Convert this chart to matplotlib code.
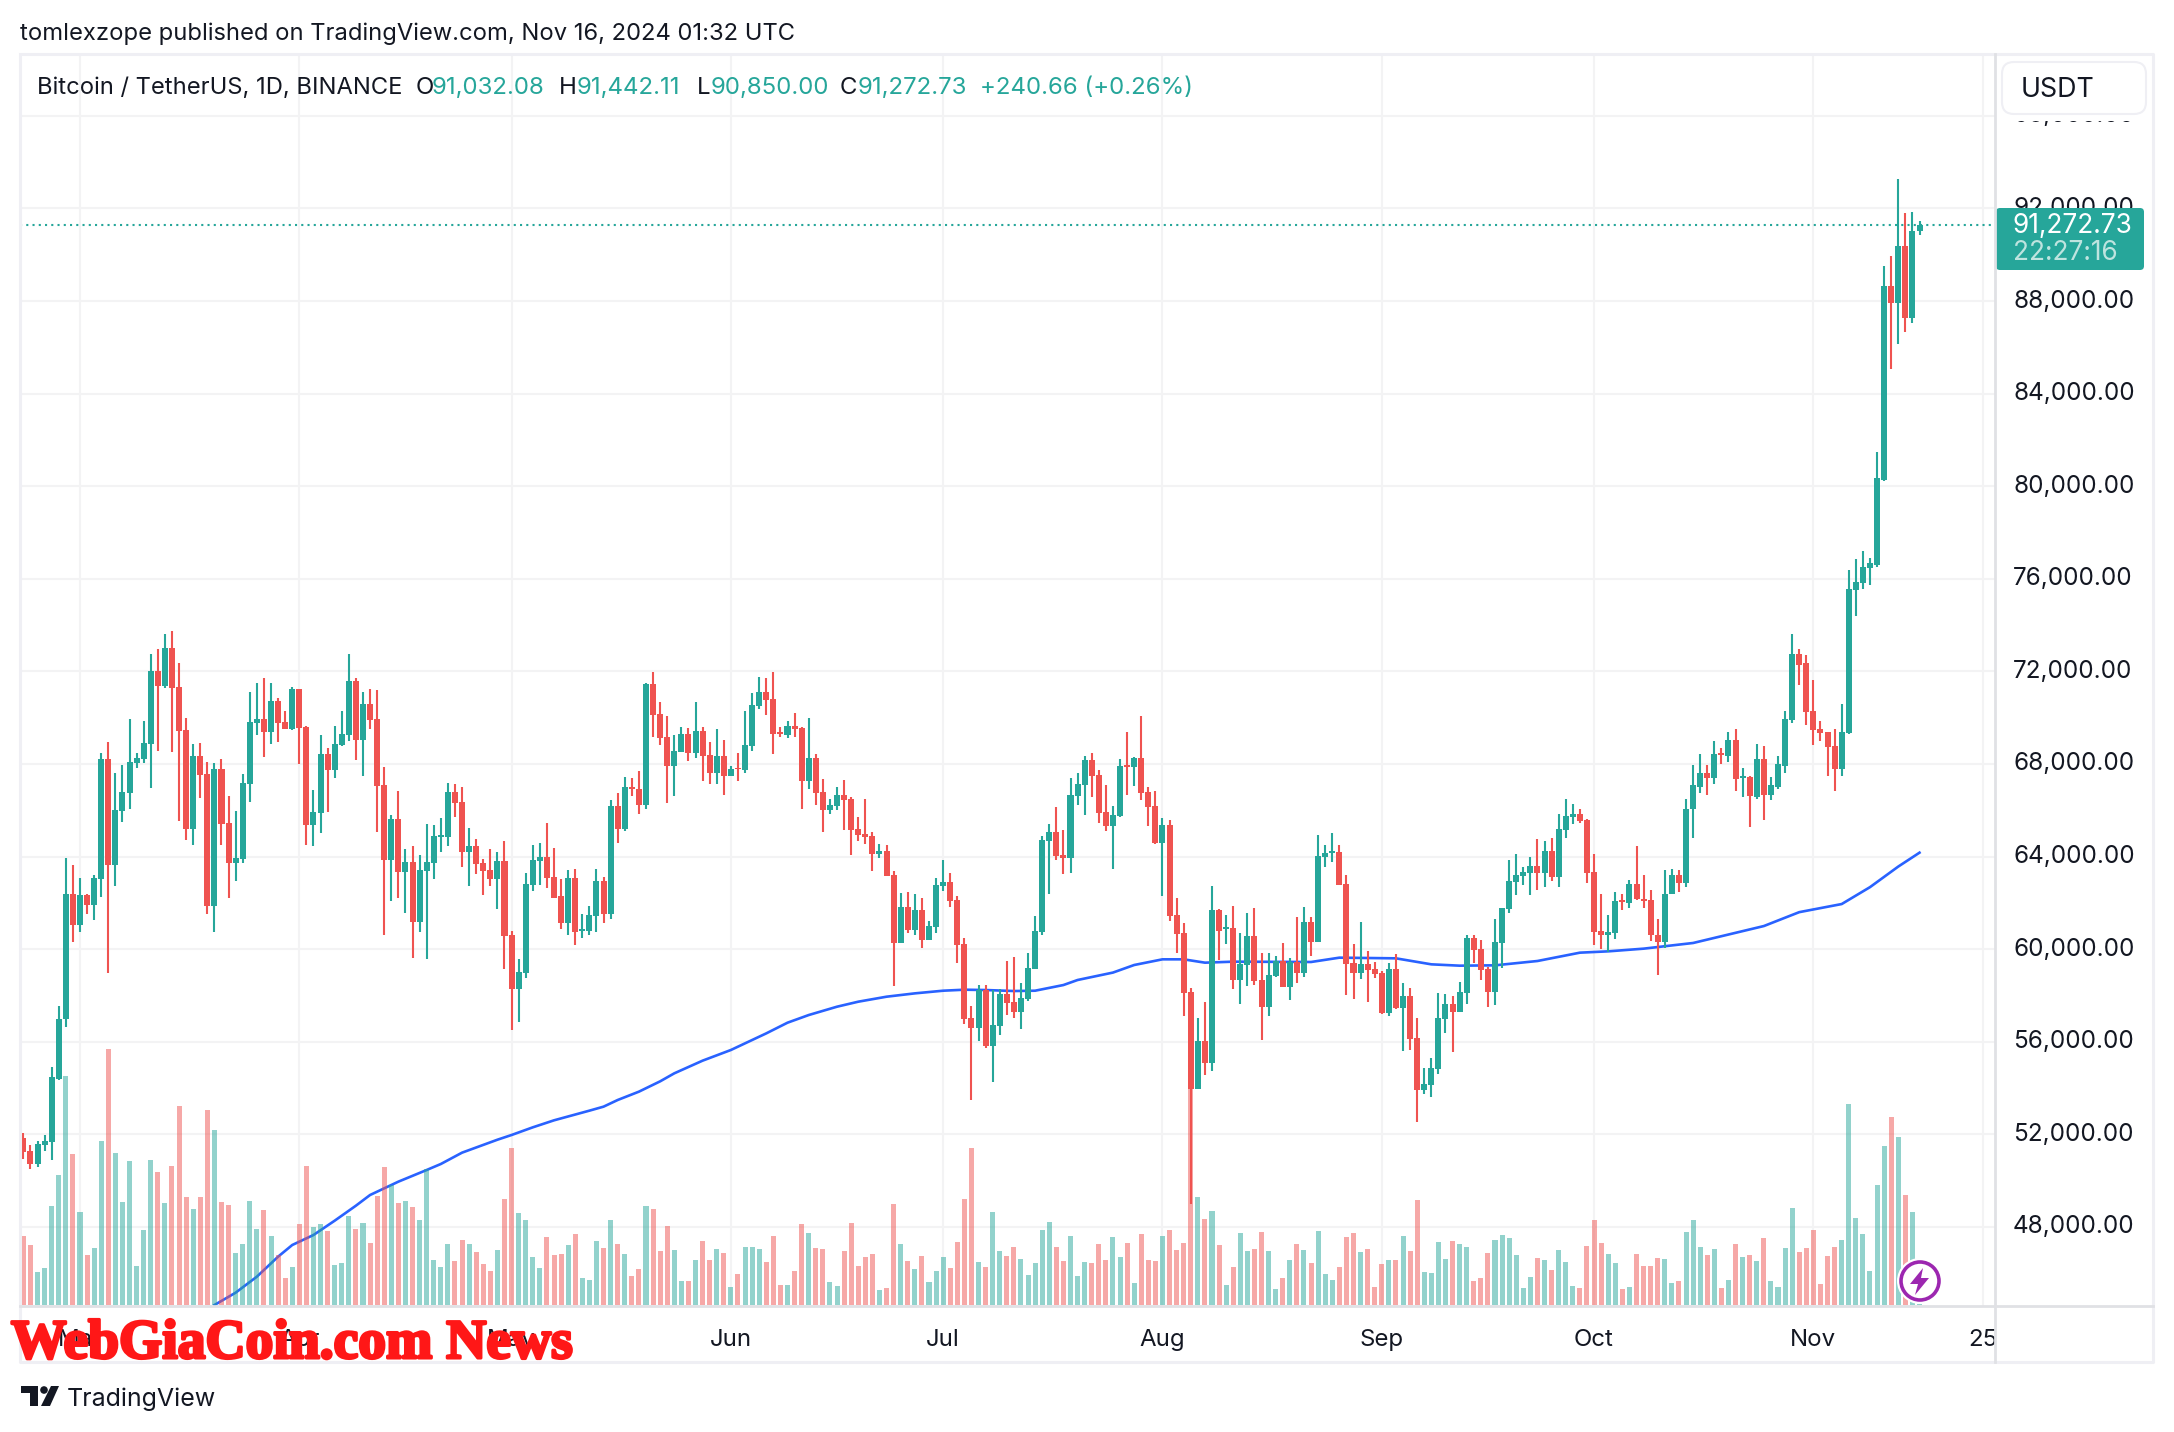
import matplotlib
matplotlib.use("Agg")
import matplotlib.pyplot as plt
import matplotlib.patheffects as pe
from matplotlib.patches import Circle, FancyBboxPatch, Polygon, Rectangle
from matplotlib.ticker import FuncFormatter

# daily BTCUSDT bars, first one is 2024-02-22
opens = [
    51844, 51283, 50721, 51542, 51672, 54403, 56967, 62381, 61056, 62352,
    61920, 63043, 68227, 63648, 65981, 66759, 68055, 68227, 68875, 72029,
    71381, 73023, 71338, 69480, 65203, 68357, 67579, 61877, 67795, 65462,
    63735, 63907, 67147, 69782, 69955, 69394, 70733, 69826, 69523, 71251,
    69610, 65376, 65894, 68443, 67752, 68832, 69264, 71597, 69048, 70603,
    69955, 67104, 63864, 65635, 63346, 63778, 61186, 63389, 63735, 64858,
    64858, 66802, 66370, 64210, 64469, 63735, 63432, 63043, 63821, 60624,
    58291, 58982, 62784, 63821, 63994, 63130, 62297, 61130, 63074, 60785,
    60785, 61433, 62945, 61519, 66185, 65191, 67006, 66919, 66228, 71455,
    70159, 69166, 67913, 68518, 69295, 68474, 69425, 68388, 67610, 68345,
    67481, 67826, 67740, 68777, 70505, 71110, 70807, 69382, 69252, 69641,
    69554, 67265, 68258, 66790, 66012, 66185, 66660, 66487, 65191, 64975,
    64889, 64111, 64241, 63204, 60266, 61821, 60828, 61692, 60396, 60958,
    62729, 62902, 62124, 60223, 57026, 56594, 58236, 55817, 56681, 58063,
    57718, 57286, 57847, 59143, 60742, 64673, 65062, 64068, 63938, 66617,
    67092, 68172, 67524, 65927, 65322, 65754, 67957, 67871, 68259, 66791,
    66186, 64587, 65365, 61477, 60699, 58150, 53960, 56034, 55084, 61693,
    60872, 60915, 58669, 59317, 60570, 58669, 57503, 58842, 59490, 58367,
    59447, 58971, 61174, 60310, 63983, 64156, 64199, 62816, 59403, 58971,
    59360, 59144, 58971, 57243, 59144, 57459, 57978, 56163, 53917, 54133,
    54824, 56984, 57632, 57287, 58107, 60483, 60008, 59144, 58151, 60267,
    61736, 62902, 63162, 63292, 63594, 63292, 64242, 63119, 65149, 65711,
    65840, 65581, 63335, 60786, 60613, 60700, 62125, 62005, 62816, 62168,
    62130, 60600, 60290, 62400, 63200, 62850, 66038, 67022, 67601, 67389,
    68470, 68354, 69029, 67389, 67427, 66559, 68200, 66655, 67022, 67929,
    69898, 72735, 72349, 70284, 69493, 69377, 68760, 67775, 69320, 75514,
    75804, 76460, 76614, 80281, 88657, 87924, 90375, 87268, 91032,
]
highs = [
    52060, 51542, 51715, 51974, 54912, 57557, 63951, 63648, 63087, 62396,
    63216, 68487, 68962, 67623, 67968, 69955, 68487, 69869, 72763, 72979,
    73627, 73757, 72375, 70000, 68875, 68919, 68098, 68055, 68227, 66629,
    65981, 67579, 71122, 71511, 71727, 71511, 70863, 70301, 71338, 71251,
    69653, 66888, 69264, 68703, 69653, 70301, 72763, 71727, 71122, 71251,
    71208, 67882, 65808, 66845, 64339, 64469, 64080, 65419, 65376, 65678,
    67191, 67147, 67018, 65246, 64771, 63907, 64339, 64210, 64685, 60797,
    59587, 63302, 64512, 64599, 65463, 64383, 63031, 63420, 63463, 61519,
    61865, 63463, 63118, 66444, 66746, 67438, 67394, 67697, 71498, 71974,
    70678, 70073, 69252, 69598, 69554, 70678, 69598, 68950, 69511, 69036,
    67913, 68474, 70289, 71066, 71758, 71714, 71974, 69598, 69857, 70203,
    69598, 69986, 68431, 67351, 66487, 67006, 67308, 66574, 65710, 66487,
    65062, 64543, 64500, 63377, 62426, 62470, 62383, 62210, 61217, 63074,
    63852, 63290, 62297, 60482, 57545, 58452, 58452, 58236, 58279, 59489,
    59662, 58538, 59834, 61433, 64889, 65407, 66142, 65148, 67394, 67610,
    68345, 68474, 67740, 67093, 66186, 68216, 69383, 68303, 70074, 67007,
    66834, 65667, 65581, 62211, 61131, 58323, 57013, 57718, 62730, 61736,
    61477, 61866, 60699, 61563, 61779, 59835, 59835, 59706, 60267, 59620,
    61391, 61822, 61391, 64933, 64501, 65019, 64501, 63205, 60224, 61175,
    59922, 59447, 59058, 59403, 59793, 58539, 58323, 57027, 54867, 55299,
    58107, 58064, 57978, 58583, 60613, 60613, 60397, 59231, 61304, 61779,
    63853, 64112, 63551, 63983, 64760, 64674, 64803, 65840, 66488, 66272,
    66056, 65624, 64112, 62384, 61477, 62470, 62384, 62989, 64458, 63200,
    62550, 61300, 63400, 63450, 63400, 66480, 67950, 68412, 67950, 68991,
    68701, 69377, 69493, 67813, 67466, 68856, 68759, 67427, 68335, 70284,
    73604, 72967, 72696, 71616, 69879, 69377, 69493, 70574, 76383, 76846,
    77193, 76884, 81478, 89526, 89950, 93251, 91803, 91861, 91442,
]
lows = [
    50937, 50505, 50592, 51283, 50894, 54350, 56650, 60322, 60754, 61531,
    61272, 62266, 58983, 62741, 65506, 66067, 67839, 68055, 66975, 68573,
    71295, 68530, 65549, 64728, 64512, 66543, 61531, 60754, 64512, 62223,
    62957, 63735, 66370, 69264, 68314, 68875, 68962, 69523, 69480, 68011,
    64512, 64469, 65030, 65938, 67406, 68789, 69005, 68184, 67493, 69523,
    65074, 60624, 62093, 62223, 61574, 59631, 60754, 59587, 63043, 64210,
    64469, 65722, 63562, 62741, 63259, 62352, 62741, 61747, 59155, 56520,
    56866, 58766, 62525, 62784, 62655, 62223, 60871, 60612, 60180, 60482,
    60612, 60742, 61130, 61303, 64586, 65105, 66617, 65839, 66055, 69166,
    68820, 66314, 66617, 68518, 68129, 68258, 67265, 67135, 67135, 66660,
    67481, 67265, 67610, 68561, 70375, 70116, 68431, 69166, 69122, 69166,
    66055, 66919, 66228, 65062, 65839, 66012, 65148, 64068, 64673, 64543,
    63377, 63938, 63161, 58409, 60266, 60698, 60612, 60050, 60396, 60698,
    62513, 61821, 59402, 56767, 53484, 56033, 55730, 54262, 56292, 57156,
    57026, 56551, 57761, 59143, 60612, 62383, 63852, 63247, 63290, 66228,
    65796, 66574, 65450, 65106, 63464, 65711, 66661, 67050, 66445, 65322,
    64544, 62298, 61218, 59835, 57114, 49000, 53960, 54565, 54738, 59533,
    60224, 58280, 57632, 58410, 58453, 56077, 57114, 58799, 58367, 57805,
    58540, 58799, 59706, 60310, 63551, 63767, 62773, 58021, 57848, 58712,
    57718, 58756, 57200, 57114, 57416, 55602, 55645, 52535, 53744, 53615,
    54608, 56379, 55559, 57287, 57632, 59403, 58669, 57503, 57589, 59188,
    61563, 62341, 62773, 62341, 62557, 62687, 62946, 62687, 64803, 65408,
    65451, 62859, 60181, 60008, 59879, 60440, 61693, 61779, 62125, 61800,
    60350, 58900, 60050, 62400, 62450, 62700, 64803, 66733, 66655, 67157,
    67987, 68084, 66829, 66559, 65266, 66501, 65575, 66424, 66906, 67601,
    69763, 71403, 69685, 68817, 69010, 67466, 66829, 67466, 69280, 74395,
    75553, 75726, 76498, 80243, 85068, 86148, 86670, 87036, 90850,
]
closes = [
    51254, 50721, 51585, 51715, 54480, 56995, 62381, 61056, 62338, 61920,
    63087, 68227, 63648, 66024, 66802, 68098, 68270, 68919, 72029, 71381,
    73023, 71295, 69437, 65203, 68357, 67536, 61877, 67795, 65419, 63735,
    63950, 67191, 69826, 69955, 69394, 70733, 69782, 69523, 71251, 69566,
    65376, 65938, 68443, 67752, 68875, 69307, 71597, 69048, 70603, 69912,
    67061, 63864, 65635, 63346, 63778, 61186, 63432, 63778, 64901, 64944,
    66802, 66326, 64210, 64469, 63692, 63389, 63043, 63821, 60581, 58291,
    59026, 62827, 63864, 63994, 63086, 62223, 61130, 63074, 60742, 60871,
    61476, 62945, 61519, 66185, 65191, 67006, 66919, 66228, 71455, 70116,
    69122, 67913, 68561, 69295, 68474, 69425, 68345, 67610, 68345, 67481,
    67783, 67783, 68820, 70548, 71110, 70764, 69295, 69295, 69641, 69511,
    67265, 68258, 66746, 66012, 66228, 66660, 66444, 65148, 64932, 64846,
    64111, 64241, 63161, 60266, 61821, 60828, 61692, 60396, 61001, 62772,
    62902, 62081, 60180, 56983, 56594, 58236, 55817, 56724, 58063, 57674,
    57286, 57891, 59186, 60785, 64716, 65062, 64025, 63938, 66660, 67135,
    68172, 67481, 65882, 65322, 65797, 67914, 67871, 68259, 66747, 66143,
    64587, 65365, 61434, 60656, 58107, 53960, 56034, 55084, 61693, 60786,
    60958, 58669, 59360, 60570, 58626, 57503, 58885, 59490, 58367, 59447,
    58971, 61174, 60310, 64026, 64156, 64242, 62773, 59360, 58971, 59360,
    59101, 58928, 57229, 59144, 57459, 57978, 56120, 53917, 54176, 54867,
    57027, 57632, 57287, 58151, 60483, 59965, 59101, 58151, 60311, 61779,
    62946, 63205, 63335, 63594, 63292, 64242, 63119, 65192, 65754, 65840,
    65538, 63292, 60743, 60613, 60743, 62082, 62039, 62816, 62168, 62100,
    60600, 60290, 62400, 63200, 62850, 66076, 67080, 67601, 67408, 68412,
    68373, 69029, 67331, 67466, 66598, 68200, 66655, 67080, 67987, 69936,
    72735, 72291, 70245, 69454, 69338, 68721, 67775, 69377, 75553, 75861,
    76498, 76672, 80358, 88657, 87924, 90375, 87268, 91031, 91273,
]
volumes = [
    207, 180, 99, 111, 297, 390, 687, 453, 279, 150,
    171, 492, 768, 456, 309, 432, 117, 225, 435, 399,
    306, 417, 597, 324, 288, 324, 585, 525, 309, 300,
    156, 183, 312, 228, 285, 207, 150, 81, 114, 243,
    417, 234, 243, 222, 120, 126, 267, 228, 246, 186,
    327, 414, 360, 306, 312, 294, 255, 408, 135, 114,
    183, 132, 195, 183, 159, 123, 102, 165, 318, 471,
    276, 255, 144, 111, 204, 150, 153, 180, 213, 81,
    75, 192, 171, 255, 183, 153, 87, 108, 297, 288,
    162, 237, 165, 72, 72, 135, 192, 135, 168, 156,
    54, 93, 174, 174, 168, 129, 207, 60, 60, 102,
    243, 216, 171, 168, 69, 57, 162, 246, 117, 144,
    153, 45, 51, 303, 183, 132, 108, 147, 69, 102,
    144, 111, 189, 318, 471, 129, 114, 279, 162, 147,
    174, 138, 90, 126, 225, 249, 174, 132, 207, 87,
    129, 126, 183, 135, 204, 144, 186, 66, 213, 135,
    132, 207, 225, 165, 186, 780, 324, 258, 282, 180,
    60, 114, 216, 162, 168, 219, 162, 48, 81, 135,
    183, 165, 126, 222, 93, 75, 114, 204, 216, 159,
    168, 54, 123, 135, 135, 207, 162, 315, 99, 96,
    189, 138, 192, 183, 174, 72, 81, 156, 195, 210,
    201, 150, 51, 84, 141, 135, 105, 165, 129, 57,
    51, 177, 255, 186, 153, 126, 48, 54, 153, 117,
    117, 141, 138, 66, 72, 219, 255, 174, 150, 168,
    51, 75, 183, 144, 150, 132, 201, 72, 54, 171,
    291, 159, 171, 225, 63, 147, 174, 195, 603, 261,
    213, 102, 360, 477, 564, 504, 330, 279, 3,
]

# moving average, read at these bars
ma_bars = [27, 30, 33, 36, 38, 41, 44, 47, 49, 53, 57, 59, 62, 67, 69, 72, 75, 80, 82, 84,
           87, 90, 92, 96, 100, 105, 108, 111, 115, 118, 122, 126, 130, 133, 136, 140, 143, 147,
           149, 154, 157, 161, 164, 167, 171, 182, 186, 194, 199, 203, 208, 214, 220, 224, 229,
           236, 246, 251, 257, 261, 265, 268]
ma_values = [44630, 45163, 45854, 46718, 47222, 47654, 48273, 48921, 49382, 49958, 50462, 50721,
             51211, 51770, 51974, 52305, 52608, 53025, 53198, 53486, 53846, 54292, 54638, 55185,
             55646, 56364, 56825, 57156, 57516, 57732, 57948, 58092, 58207, 58250, 58236, 58193,
             58207, 58452, 58669, 58990, 59317, 59562, 59562, 59418, 59461, 59447, 59634, 59605,
             59346, 59288, 59303, 59490, 59850, 59907, 60023, 60268, 61000, 61600, 61950, 62680,
             63570, 64170]

month_bars = [8, 39, 69, 100, 130, 161, 192, 222, 253, 277]
month_labels = ["Mar", "Apr", "May", "Jun", "Jul", "Aug", "Sep", "Oct", "Nov", "25"]
price_ticks = [48000, 52000, 56000, 60000, 64000, 68000, 72000, 76000, 80000, 84000, 88000, 92000, 96000]

GREEN = "#26A69A"
RED = "#EF5350"
BLUE = "#2962FF"
INK = "#131722"
GRID = "#F3F3F4"
FRAME = "#EFEFF4"
AXIS = "#E0E1E5"
W, H = 2174, 1432

plt.rcParams["font.family"] = ["Inter", "DejaVu Sans"]
fig = plt.figure(figsize=(W / 100, H / 100), dpi=100, facecolor="white")


def px_axes(left, top, right, bottom, zorder):
    a = fig.add_axes([left / W, 1 - bottom / H, (right - left) / W, (bottom - top) / H], zorder=zorder)
    a.patch.set_alpha(0)
    return a


# chart area in pixels: 54..1306 high, 20..1995 wide
xlim = (-0.48, 278.67)
ylim = (44587, 98670)
ax = px_axes(20, 54, 1995, 1306, 1)
ax_vol = px_axes(20, 54, 1995, 1306, 2)
ax_px = px_axes(20, 54, 1995, 1306, 3)
for a in (ax, ax_vol, ax_px):
    a.set_xlim(*xlim)
    for s in a.spines.values():
        s.set_visible(False)
ax.set_ylim(*ylim)
ax_px.set_ylim(*ylim)
ax_vol.set_ylim(-3, 3753)
for a in (ax_vol, ax_px):
    a.set_xticks([])
    a.set_yticks([])

ax.set_xticks(month_bars, month_labels)
ax.yaxis.tick_right()
ax.set_yticks(price_ticks)
ax.yaxis.set_major_formatter(FuncFormatter(lambda v, _: f"{v:,.2f}"))
ax.tick_params(axis="both", length=0, colors=INK)
ax.tick_params(axis="x", labelsize=17.3, pad=16.5)
ax.tick_params(axis="y", labelsize=17.5, pad=13)
ax.grid(True, color=GRID, lw=1.5)
ax.set_axisbelow(True)
ax.plot(ma_bars, ma_values, color=BLUE, lw=1.9, zorder=2)
for lbl in ax.get_yticklabels():
    lbl.set_verticalalignment("center")

# volume under the candles, body colour follows the candle
bars = range(len(closes))
colors = [GREEN if c >= o else RED for o, c in zip(opens, closes)]
ax_vol.bar(bars, volumes, width=0.71, color=colors, alpha=0.5, linewidth=0)

ax_px.vlines(bars, lows, highs, colors=colors, lw=1.5)
tops = [max(o, c) for o, c in zip(opens, closes)]
bots = [min(o, c) for o, c in zip(opens, closes)]
ax_px.bar(bars, [t - b for t, b in zip(tops, bots)], bottom=bots, width=0.85, color=colors, linewidth=0)
ax_px.axhline(closes[-1], color=GREEN, lw=1.5, ls=(0, (1, 2)), zorder=0)

# overlay in image pixels for frame, tag and header text
ov = fig.add_axes([0, 0, 1, 1], zorder=4)
ov.set_xlim(0, W)
ov.set_ylim(H, 0)
ov.axis("off")
ov.patch.set_alpha(0)

# the "25" label gets cut by the price scale, the 96,000 one by the currency button
ov.add_patch(Rectangle((1996, 1307), 158, 55, fc="white", ec="none"))
ov.add_patch(Rectangle((1997, 55), 155, 66, fc="white", ec="none"))
ov.plot([20, 2153, 2153, 20, 20], [54, 54, 1362, 1362, 54], color=FRAME, lw=2.2)
ov.plot([1995, 1995], [54, 1362], color=AXIS, lw=2)
ov.plot([20, 2153], [1306, 1306], color=AXIS, lw=2)

ov.add_patch(FancyBboxPatch((2002, 62), 144, 52, boxstyle="round,pad=0,rounding_size=12", fc="white", ec=FRAME, lw=1.5))
ov.text(2021, 90, "USDT", fontsize=19.3, color=INK, va="center")

ov.add_patch(FancyBboxPatch((1996, 208), 148, 62, boxstyle="round,pad=0,rounding_size=4", fc=GREEN, ec="none"))
ov.text(2013, 225.5, f"{closes[-1] - 0.27:,.2f}", fontsize=18.9, color="white", va="center")
ov.text(2013, 253.5, "22:27:16", fontsize=18.9, color="#BEE4DF", va="center")

ov.text(20, 34, "tomlexzope published on TradingView.com, Nov 16, 2024 01:32 UTC", fontsize=17.1, color=INK, va="center")
ov.text(37, 88, "Bitcoin / TetherUS, 1D, BINANCE", fontsize=17.1, color=INK, va="center")
header = [(416, "O", INK), (432, "91,032.08", GREEN), (559, "H", INK), (577, "91,442.11", GREEN),
          (697, "L", INK), (711, "90,850.00", GREEN), (840, "C", INK), (858, "91,272.73", GREEN),
          (980, "+240.66 (+0.26%)", GREEN)]
for hx, txt, col in header:
    ov.text(hx, 88, txt, fontsize=17.3, color=col, va="center")

# realtime bolt icon
ov.add_patch(Circle((1920, 1281), 23, fc="white", ec="none"))
ov.add_patch(Circle((1920, 1281), 19, fc="white", ec="#9C27B0", lw=2.6))
ov.add_patch(Polygon([(1923, 1268), (1910, 1284), (1918, 1284), (1915, 1295), (1929, 1278), (1921, 1278)], fc="#9C27B0", ec="none"))

# TradingView mark and name
ov.add_patch(Polygon([(21, 1386), (38, 1386), (38, 1406), (30, 1406), (30, 1393), (21, 1393)], fc=INK, ec="none"))
ov.add_patch(Circle((44, 1390), 3.8, fc=INK, ec="none"))
ov.add_patch(Polygon([(51, 1386), (59, 1386), (50, 1406), (41, 1406)], fc=INK, ec="none"))
ov.text(67, 1399, "TradingView", fontsize=18, color=INK, va="center")

ov.text(11, 1344, "WebGiaCoin.com News", family="Liberation Serif", fontweight="bold", fontsize=40,
        color="#FF1717", va="center",
        path_effects=[pe.withStroke(linewidth=2.2, foreground="#FF1717")])

fig.savefig("out.png", dpi=100, facecolor="white")
